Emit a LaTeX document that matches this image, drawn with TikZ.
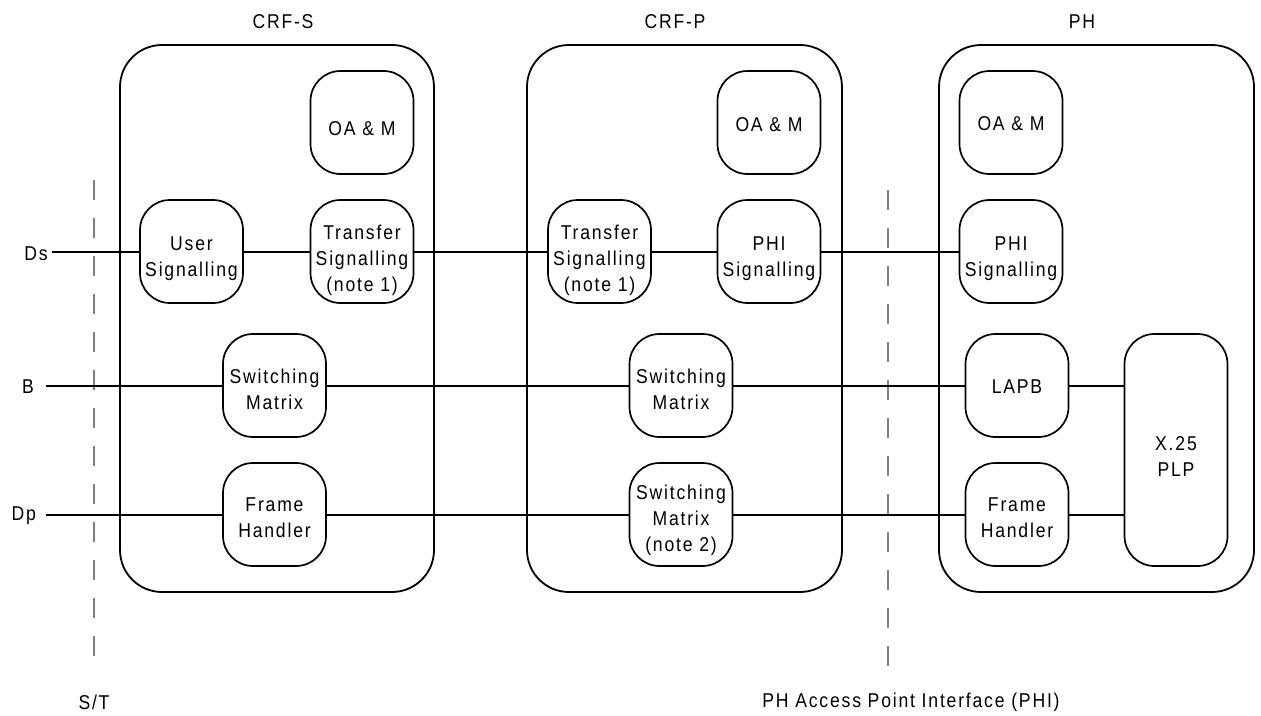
\documentclass[tikz,border=0pt]{standalone}
\usepackage{fontspec}
\setmainfont{Liberation Sans}[LetterSpace=9,FakeStretch=0.88]
\newcommand\dfont{\fontsize{20}{26}\selectfont}
% block text, lowered a little inside its box as in the reference
\newcommand\bt[2][7]{\raisebox{\dimexpr-#1pt-5pt\relax}[0pt][0pt]{\begin{tabular}{@{}c@{}}#2\end{tabular}}}
\tikzset{
  outerbox/.style={draw, line width=1.8pt, rounded corners=42pt, inner sep=0pt},
  blk/.style={draw, line width=1.7pt, rounded corners=30pt, minimum width=103pt,
    minimum height=103pt, inner sep=0pt, align=center, font=\dfont},
  wire/.style={line width=2pt},
  iface/.style={draw=black!50, line width=1.2pt, dash pattern=on 20pt off 18pt},
  lbl/.style={font=\dfont, inner sep=0pt}
}
\begin{document}
\begin{tikzpicture}[x=1pt,y=-1pt]
\useasboundingbox (0,0) rectangle (1261,715);
% outer containers
\node[outerbox, minimum width=314pt, minimum height=547pt] (crfs) at (277,318.5) {};
\node[outerbox, minimum width=315pt, minimum height=547pt] (crfp) at (684.5,318.5) {};
\node[outerbox, minimum width=315pt, minimum height=547pt] (ph) at (1096.5,318.5) {};
\node[lbl] (tcrfs) at (283,22) {CRF-S};
\node[lbl] (tcrfp) at (675,22) {CRF-P};
\node[lbl] (tph) at (1082,22) {PH};
% interfaces
\coordinate (st1) at (94,180);
\coordinate (st2) at (94,673);
\coordinate (phi1) at (888,190);
\coordinate (phi2) at (888,683);
\draw[iface] (st1) -- (st2);
\draw[iface] (phi1) -- (phi2);
\node[lbl] (stl) at (94,702) {S/T};
\node[lbl] (phil) at (911,702) {PH Access Point Interface (PHI)};
% CRF-S blocks
\node[blk] (oam1) at (362,122.5) {\bt[8]{OA \& M}};
\node[blk] (us) at (191.5,251.5) {\bt{User\\Signalling}};
\node[blk] (ts1) at (362,251.5) {\bt[9]{Transfer\\Signalling\\(note 1)}};
\node[blk] (sm1) at (274.5,385.5) {\bt[6]{Switching\\Matrix}};
\node[blk] (fh1) at (274.5,514.5) {\bt[5]{Frame\\Handler}};
% CRF-P blocks
\node[blk] (oam2) at (769,122.5) {\bt[4]{OA \& M}};
\node[blk] (ts2) at (599.5,251.5) {\bt[9]{Transfer\\Signalling\\(note 1)}};
\node[blk] (phis2) at (769,251.5) {\bt{PHI\\Signalling}};
\node[blk] (sm2) at (681,385.5) {\bt[6]{Switching\\Matrix}};
\node[blk] (sm3) at (681,514.5) {\bt[6]{Switching\\Matrix\\(note 2)}};
% PH blocks
\node[blk] (oam3) at (1011,122.5) {\bt[3]{OA \& M}};
\node[blk] (phis3) at (1011,251.5) {\bt{PHI\\Signalling}};
\node[blk] (lapb) at (1017,385.5) {\bt[3]{LAPB}};
\node[blk] (fh3) at (1017,514.5) {\bt[5]{Frame\\Handler}};
\node[blk, minimum height=232pt] (x25) at (1176,450) {\bt[8]{X.25\\PLP}};
% left labels
\coordinate (dsS) at (52,251.5);
\coordinate (bS) at (46,385.5);
\coordinate (dpS) at (46,514.5);
\node[lbl, anchor=east] (dsl) at (48,254) {Ds};
\node[lbl, anchor=east] (bl) at (34,387) {B};
\node[lbl, anchor=east] (dpl) at (36,516) {Dp};
% wires
\draw[wire] (dsS) -- (us.west);
\draw[wire] (us.east) -- (ts1.west);
\draw[wire] (ts1.east) -- (ts2.west);
\draw[wire] (ts2.east) -- (phis2.west);
\draw[wire] (phis2.east) -- (phis3.west);
\draw[wire] (bS) -- (sm1.west);
\draw[wire] (sm1.east) -- (sm2.west);
\draw[wire] (sm2.east) -- (lapb.west);
\draw[wire] (lapb.east) -- (lapb.east -| x25.west);
\draw[wire] (dpS) -- (fh1.west);
\draw[wire] (fh1.east) -- (sm3.west);
\draw[wire] (sm3.east) -- (fh3.west);
\draw[wire] (fh3.east) -- (fh3.east -| x25.west);
\end{tikzpicture}
\end{document}
